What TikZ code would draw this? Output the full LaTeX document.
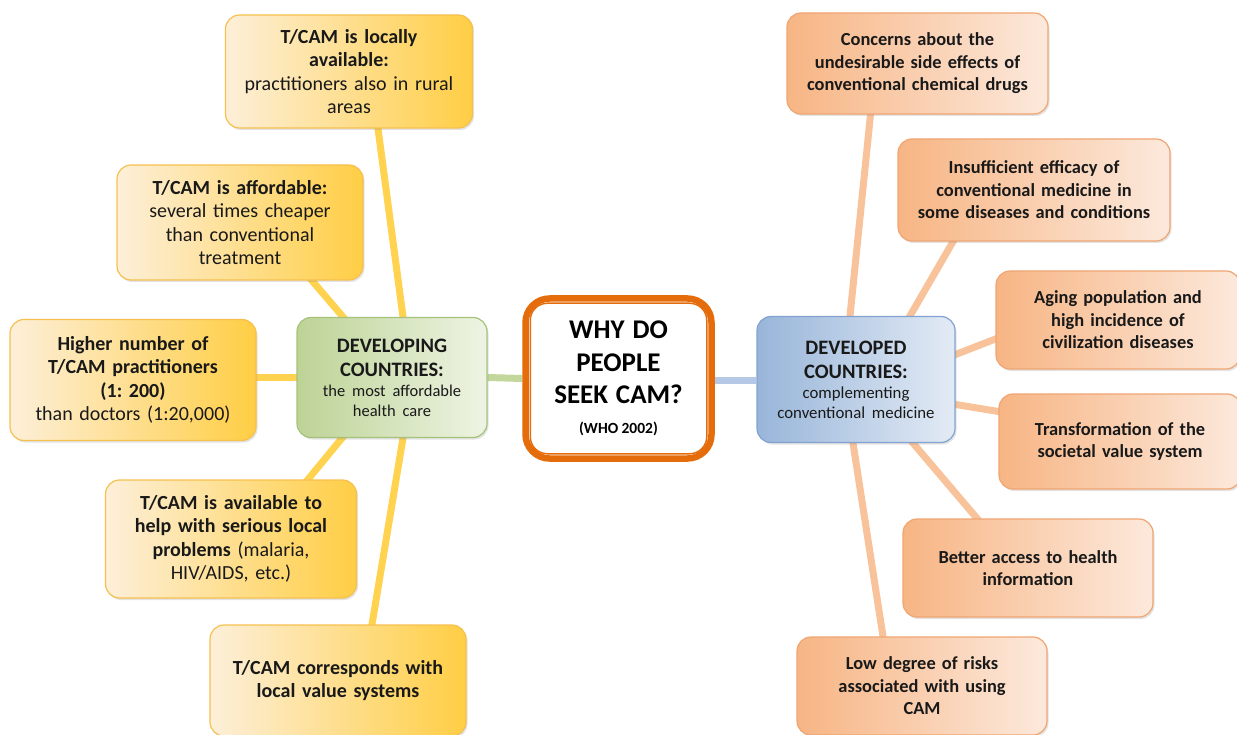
\documentclass[tikz,border=0pt]{standalone}
\usepackage{fontspec}
\setmainfont{Carlito}
\usetikzlibrary{calc,shadows,backgrounds}
\frenchspacing

\definecolor{ylight}{HTML}{FDEFD9}
\definecolor{ydark}{HTML}{FFCE45}
\definecolor{yedge}{HTML}{F6C04E}
\definecolor{ycon}{HTML}{FFD24F}
\definecolor{olight}{HTML}{FCE9DC}
\definecolor{odark}{HTML}{F7B584}
\definecolor{oedge}{HTML}{F0A572}
\definecolor{ocon}{HTML}{F8C39A}
\definecolor{glight}{HTML}{EEF4E4}
\definecolor{gdark}{HTML}{BDD395}
\definecolor{gedge}{HTML}{A6C27A}
\definecolor{gcon}{HTML}{C3D69B}
\definecolor{blight}{HTML}{E3EBF5}
\definecolor{bdark}{HTML}{98B5D9}
\definecolor{bedge}{HTML}{82A3CF}
\definecolor{bcon}{HTML}{B5C9E6}
\definecolor{camorange}{HTML}{E46C0A}

\tikzset{
  box/.style={rectangle, rounded corners=14pt, draw, line width=1.2pt,
    align=center, inner sep=0pt, text=black!90,
    drop shadow={opacity=0.22, shadow xshift=1.5pt, shadow yshift=-2pt}},
  ybox/.style={box, draw=yedge, left color=ylight, right color=ydark,
    font=\fontsize{20}{23.5}\selectfont},
  obox/.style={box, draw=oedge, left color=odark, right color=olight,
    font=\bfseries\fontsize{18.4}{22.5}\selectfont},
  gbox/.style={box, draw=gedge, left color=gdark, right color=glight,
    font=\fontsize{20.5}{24}\selectfont},
  bbox/.style={box, draw=bedge, left color=bdark, right color=blight,
    font=\fontsize{20.5}{24}\selectfont},
  ycn/.style={draw=ycon, line width=7pt, shorten <=-6pt, shorten >=-6pt},
  ocn/.style={draw=ocon, line width=7pt, shorten <=-6pt, shorten >=-6pt},
}

\begin{document}
\begin{tikzpicture}[x=1pt, y=-1pt]
\useasboundingbox (0,0) rectangle (1237,735);

% centre
\node[rectangle, rounded corners=24pt, draw=camorange, line width=6.5pt,
  fill=white, minimum width=186pt, minimum height=160pt, text width=180pt,
  align=center, inner sep=0pt] (wh) at (618.5,378.5)
  {{\fontsize{27}{32.5}\selectfont\bfseries WHY\,\ DO\\PEOPLE\\SEEK\,\ CAM?\par}
   {\fontsize{15.5}{30}\selectfont\bfseries (WHO 2002)\par}};
\draw[camorange, line width=1.5pt, rounded corners=17pt]
  ($(wh.south west)+(8,-8)$) rectangle ($(wh.north east)+(-8,8)$);

% developing countries
\node[gbox, minimum width=190pt, minimum height=120pt, text width=184pt] (dg) at (392,377.5)
  {\textbf{DEVELOPING}\\\textbf{COUNTRIES:}\par
   {\fontsize{16.5}{20}\selectfont the most affordable\\health care\par}};
\node[ybox, minimum width=247pt, minimum height=113pt, text width=240pt] (y1) at (349,71.5)
  {\textbf{T/CAM is locally}\\\textbf{available:}\\practitioners also in rural\\areas};
\node[ybox, minimum width=246pt, minimum height=115pt, text width=240pt] (y2) at (240,222.5)
  {\textbf{T/CAM is affordable:}\\several times cheaper\\than conventional\\treatment};
\node[ybox, minimum width=246pt, minimum height=121pt, text width=240pt] (y3) at (133,380)
  {\textbf{Higher number of}\\\textbf{T/CAM practitioners}\\\textbf{(1: 200)}\\than doctors (1:20,000)};
\node[ybox, minimum width=251pt, minimum height=118pt, text width=244pt] (y4) at (231,539)
  {\textbf{T/CAM is available to}\\\textbf{help with serious local}\\\textbf{problems} (malaria,\\HIV/AIDS, etc.)};
\node[ybox, minimum width=256pt, minimum height=111pt, text width=250pt] (y5) at (338,680.5)
  {\textbf{T/CAM corresponds with}\\\textbf{local value systems}};

% developed countries
\node[bbox, minimum width=198pt, minimum height=126pt, text width=192pt] (dd) at (856,379.5)
  {\textbf{DEVELOPED}\\\textbf{COUNTRIES:}\par
   {\fontsize{16.8}{20}\selectfont complementing\\conventional medicine\par}};
\node[obox, minimum width=261pt, minimum height=101pt, text width=255pt] (o1) at (917.5,63.5)
  {Concerns about the\\undesirable side effects of\\conventional chemical drugs};
\node[obox, minimum width=272pt, minimum height=102pt, text width=266pt] (o2) at (1034,190)
  {Insufficient efficacy of\\conventional medicine in\\some diseases and conditions};
\node[obox, minimum width=244pt, minimum height=98pt, text width=238pt] (o3) at (1118,320)
  {Aging population and\\high incidence of\\civilization diseases};
\node[obox, minimum width=242pt, minimum height=95pt, text width=236pt] (o4) at (1120,441.5)
  {Transformation of the\\societal value system};
\node[obox, minimum width=250pt, minimum height=98pt, text width=244pt] (o5) at (1028,568)
  {Better access to health\\information};
\node[obox, minimum width=250pt, minimum height=98pt, text width=244pt] (o6) at (922,686)
  {Low degree of risks\\associated with using\\CAM};

\begin{pgfonlayer}{background}
\draw[draw=gcon, line width=7pt] (dg.east) -- (wh.west);
\draw[draw=bcon, line width=7pt] ($(wh.east)+(0,2)$) -- ($(dd.west)+(0,1)$);

\draw[ycn] ($(dg.north)+(11,0)$) -- ($(y1.south)+(29,0)$);
\draw[ycn] ($(dg.north)+(-49,0)$) -- ($(y2.south)+(72,0)$);
\draw[ycn] (dg.west) -- (dg.west -| y3.east);
\draw[ycn] ($(dg.south)+(-50,0)$) -- ($(y4.north)+(77,0)$);
\draw[ycn] ($(dg.south)+(11,0)$) -- ($(y5.north)+(34,0)$);

\draw[ocn] ($(dd.north)+(-6,0)$) -- ($(o1.south)+(-47,0)$);
\draw[ocn] ($(dd.north)+(54,0)$) -- ($(o2.south)+(-81,0)$);
\draw[ocn] ($(dd.east)+(0,-25)$) -- ($(o3.west)+(0,19)$);
\draw[ocn] ($(dd.east)+(0,25)$) -- ($(o4.west)+(0,-30)$);
\draw[ocn] ($(dd.south)+(57,0)$) -- ($(o5.north)+(-51,0)$);
\draw[ocn] ($(dd.south)+(-3,0)$) -- ($(o6.north)+(-39,0)$);
\end{pgfonlayer}
\end{tikzpicture}
\end{document}
